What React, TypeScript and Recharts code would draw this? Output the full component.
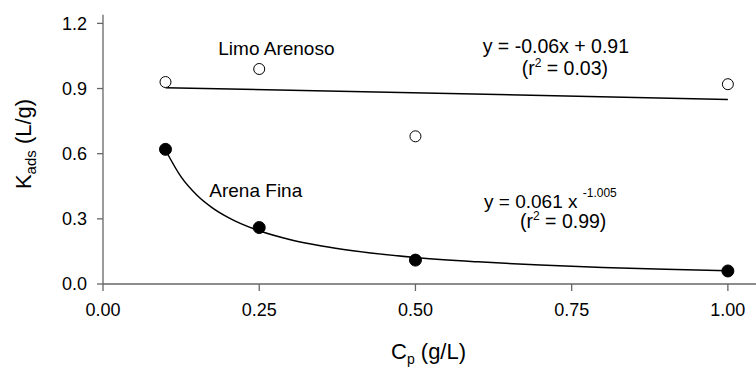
import React from "react";
import {
  ComposedChart,
  Scatter,
  Line,
  XAxis,
  YAxis,
} from "recharts";

// Measured data points
const cpValues = [0.1, 0.25, 0.5, 1.0];
const limoArenosoK = [0.93, 0.99, 0.68, 0.92];
const arenaFinaK = [0.62, 0.26, 0.11, 0.06];

// Fitted lines
const linFitX = [0.1, 1.0];
const linFitY = [0.904, 0.85];
const powFitX = [0.1, 0.125, 0.15, 0.175, 0.2, 0.25, 0.3, 0.35, 0.4, 0.5, 0.6, 0.7, 0.8, 0.9, 1.0];
const powFitY = [0.617, 0.493, 0.41, 0.351, 0.307, 0.245, 0.204, 0.175, 0.153, 0.122, 0.102, 0.087, 0.076, 0.068, 0.061];

const xTicks = [0, 0.25, 0.5, 0.75, 1.0];
const yTicks = [0, 0.3, 0.6, 0.9, 1.2];

const limoData = cpValues.map((x, i) => ({ x, y: limoArenosoK[i] }));
const arenaData = cpValues.map((x, i) => ({ x, y: arenaFinaK[i] }));
const linData = linFitX.map((x, i) => ({ x, y: linFitY[i] }));
const powData = powFitX.map((x, i) => ({ x, y: powFitY[i] }));

const FONT = "'Liberation Sans', Arial, Helvetica, sans-serif";
const AXIS = "#666";

const OpenDot = (props: any) => {
  const { cx, cy } = props;
  return <circle cx={cx} cy={cy} r={5.5} fill="#fff" stroke="#000" strokeWidth={1} />;
};
const FilledDot = (props: any) => {
  const { cx, cy } = props;
  return <circle cx={cx} cy={cy} r={6} fill="#000" stroke="#000" strokeWidth={1} />;
};

export default function App() {
  return (
    <div style={{ position: "absolute", left: 0, top: 0, width: 756, height: 368, overflow: "hidden", background: "#fff" }}>
      <ComposedChart
        width={756}
        height={368}
        margin={{ top: 14.7, right: 0, bottom: 0, left: 0 }}
      >
        <XAxis
          xAxisId="top"
          orientation="top"
          type="number"
          dataKey="x"
          domain={[0, 1.045]}
          height={0}
          tick={false}
          tickLine={false}
          axisLine={{ stroke: "#000", strokeWidth: 1 }}
        />
        <XAxis
          type="number"
          dataKey="x"
          domain={[0, 1.045]}
          ticks={xTicks}
          tickFormatter={(v: number) => v.toFixed(2)}
          height={84}
          tickSize={7}
          tickMargin={12}
          axisLine={{ stroke: AXIS, strokeWidth: 1.3 }}
          tickLine={{ stroke: AXIS, strokeWidth: 1.3 }}
          tick={{ fill: "#000", fontSize: 18, fontFamily: FONT }}
          allowDataOverflow
        />
        <YAxis
          type="number"
          dataKey="y"
          domain={[0, 1.24]}
          ticks={yTicks}
          tickFormatter={(v: number) => v.toFixed(1)}
          width={103}
          tickSize={6}
          tickMargin={10}
          axisLine={{ stroke: AXIS, strokeWidth: 1.3 }}
          tickLine={{ stroke: AXIS, strokeWidth: 1.3 }}
          tick={{ fill: "#000", fontSize: 18, fontFamily: FONT }}
          allowDataOverflow
        />
        <Line
          data={linData}
          dataKey="y"
          type="linear"
          stroke="#000"
          strokeWidth={1.5}
          dot={false}
          activeDot={false}
          isAnimationActive={false}
        />
        <Line
          data={powData}
          dataKey="y"
          type="monotone"
          stroke="#000"
          strokeWidth={1.5}
          dot={false}
          activeDot={false}
          isAnimationActive={false}
        />
        <Scatter data={limoData} dataKey="y" shape={<OpenDot />} isAnimationActive={false} />
        <Scatter data={arenaData} dataKey="y" shape={<FilledDot />} isAnimationActive={false} />
      </ComposedChart>
      <svg
        width={756}
        height={368}
        style={{ position: "absolute", left: 0, top: 0, pointerEvents: "none" }}
        fontFamily={FONT}
      >
        <text x={218.3} y={55} fontSize={19} fill="#000">Limo Arenoso</text>
        <text x={209.3} y={196.7} fontSize={19} fill="#000">Arena Fina</text>
        <text x={482.7} y={53.3} fontSize={19.5} fill="#000">y = -0.06x + 0.91</text>
        <text x={521.7} y={75} fontSize={19.5} fill="#000">
          (r<tspan fontSize={12} dy={-8}>2</tspan>
          <tspan dy={8}> = 0.03)</tspan>
        </text>
        <text x={484} y={207.5} fontSize={19} fill="#000">
          y = 0.061 x <tspan fontSize={12} dy={-11}>-1.005</tspan>
        </text>
        <text x={520} y={227.5} fontSize={19.5} fill="#000">
          (r<tspan fontSize={12} dy={-8}>2</tspan>
          <tspan dy={8}> = 0.99)</tspan>
        </text>
        <text x={391} y={359} fontSize={22} fill="#000">
          C<tspan fontSize={14} dy={5}>p</tspan>
          <tspan dy={-5}> (g/L)</tspan>
        </text>
        <text transform="translate(31,144) rotate(-90)" textAnchor="middle" fontSize={22} fill="#000">
          K<tspan fontSize={15} dy={5}>ads</tspan>
          <tspan dy={-5}> (L/g)</tspan>
        </text>
      </svg>
    </div>
  );
}
